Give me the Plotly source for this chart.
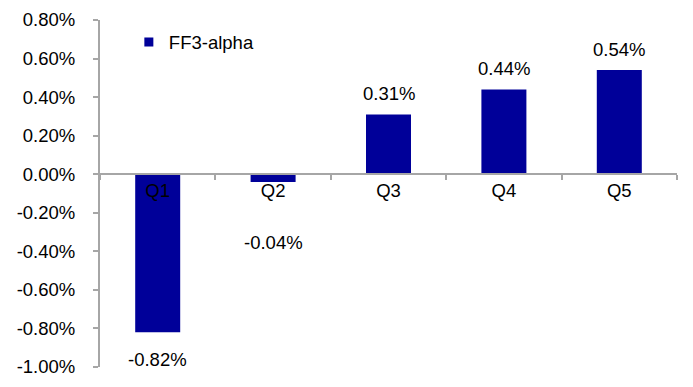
import plotly.graph_objects as go

categories = ["Q1", "Q2", "Q3", "Q4", "Q5"]
alpha = [-0.82, -0.04, 0.31, 0.44, 0.54]
series_name = "FF3-alpha"
tick_values = [-1.0, -0.8, -0.6, -0.4, -0.2, 0.0, 0.2, 0.4, 0.6, 0.8]

BAR = "#000099"
GRAY = "#A6A6A6"
FONT = "Liberation Sans, Arial, sans-serif"
FS = 18.5
label_shift = [-27, -61, 21, 21, 21]

fig = go.Figure()
fig.add_trace(go.Bar(x=categories, y=alpha, marker=dict(color=BAR, line=dict(width=0)),
                     showlegend=False, hoverinfo="skip"))
fig.add_trace(go.Scatter(x=[None], y=[None], mode="markers", name=series_name,
                         marker=dict(symbol="square", size=9, color=BAR)))

for c, v, s in zip(categories, alpha, label_shift):
    fig.add_annotation(x=c, y=v, text=f"{v:.2f}%", showarrow=False, yshift=s,
                       yanchor="middle", font=dict(size=FS, color="black", family=FONT))

ymin, ymax = -1.0, 0.8
fig.update_layout(
    width=685, height=379,
    margin=dict(l=92, r=16, t=12, b=20, autoexpand=False),
    paper_bgcolor="white", plot_bgcolor="white",
    bargap=0.61,
    font=dict(family=FONT, size=FS, color="black"),
    legend=dict(x=0.05, y=0.99, xanchor="left", yanchor="top", bgcolor="rgba(0,0,0,0)",
                font=dict(size=FS), itemwidth=30),
    xaxis=dict(type="category", anchor="free", position=(0 - ymin) / (ymax - ymin),
               showline=True, linecolor=GRAY, linewidth=2, ticks="outside",
               tickson="boundaries", ticklen=5, tickcolor=GRAY, tickwidth=2,
               showgrid=False, zeroline=False, tickfont=dict(size=FS), automargin=False),
    yaxis=dict(range=[ymin, ymax], tickvals=tick_values,
               ticktext=[f"{t:.2f}%" for t in tick_values],
               showline=True, linecolor=GRAY, linewidth=2, ticks="outside",
               ticklen=5, tickcolor=GRAY, tickwidth=2, showgrid=False, zeroline=False,
               ticklabelstandoff=14, tickfont=dict(size=FS), automargin=False),
)
fig.write_html("out.html")
